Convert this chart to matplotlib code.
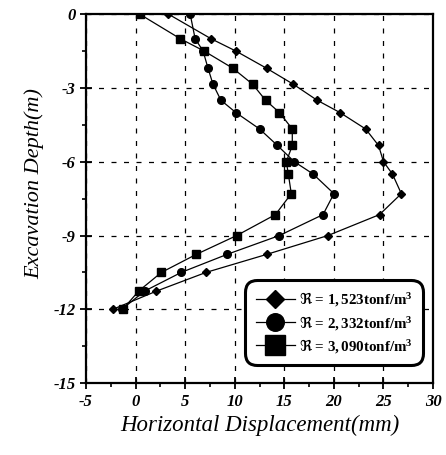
import matplotlib
matplotlib.use("Agg")
import matplotlib.pyplot as plt
from matplotlib.ticker import MultipleLocator

plt.rcParams["font.family"] = ["Liberation Serif", "DejaVu Serif"]
plt.rcParams["mathtext.fontset"] = "custom"
plt.rcParams["mathtext.it"] = "Liberation Serif:italic:bold"
plt.rcParams["mathtext.rm"] = "Liberation Serif:bold"
plt.rcParams["mathtext.fallback"] = "stix"
plt.rcParams["axes.unicode_minus"] = False

# depth of each reading (m)
depth = [0, -1.0, -1.5, -2.2, -2.85, -3.5, -4.0, -4.67, -5.34,
         -6.0, -6.5, -7.3, -8.15, -9.0, -9.77, -10.5, -11.26, -12.0]

# horizontal displacement (mm) for each stiffness
disp_1523 = [3.3, 7.6, 10.1, 13.2, 15.9, 18.3, 20.6, 23.2, 24.5,
             25.0, 25.9, 26.8, 24.6, 19.4, 13.2, 7.1, 2.1, -2.3]
disp_2332 = [5.5, 6.0, 6.8, 7.3, 7.8, 8.6, 10.1, 12.5, 14.3,
             16.0, 17.9, 20.0, 18.9, 14.5, 9.2, 4.6, 0.9, -1.4]
disp_3090 = [0.4, 4.5, 6.9, 9.8, 11.8, 13.1, 14.5, 15.8, 15.8,
             15.2, 15.4, 15.7, 14.1, 10.2, 6.1, 2.6, 0.3, -1.3]

labels = [r"$\mathbf{\Re}$ = $\mathit{1,523}$tonf/m$^3$",
          r"$\mathbf{\Re}$ = $\mathit{2,332}$tonf/m$^3$",
          r"$\mathbf{\Re}$ = $\mathit{3,090}$tonf/m$^3$"]

fig = plt.figure(figsize=(4.46, 4.55), dpi=100)
ax = fig.add_axes([0.193, 0.158, 0.778, 0.811])

ax.plot(disp_1523, depth, color="black", lw=0.9, marker="D", ms=4, label=labels[0])
ax.plot(disp_2332, depth, color="black", lw=0.9, marker="o", ms=5.5, label=labels[1])
ax.plot(disp_3090, depth, color="black", lw=0.9, marker="s", ms=6, label=labels[2])

ax.set_xlim(-5, 30)
ax.set_ylim(-15, 0)
ax.xaxis.set_major_locator(MultipleLocator(5))
ax.xaxis.set_minor_locator(MultipleLocator(2.5))
ax.yaxis.set_major_locator(MultipleLocator(3))
ax.yaxis.set_minor_locator(MultipleLocator(1.5))

ax.grid(True, which="major", color="black", ls=(0, (4, 6)), lw=0.9)

for s in ax.spines.values():
    s.set_linewidth(1.6)

ax.tick_params(which="major", direction="inout", length=9, width=1.3,
               labelsize=12, pad=3)
ax.tick_params(which="minor", direction="out", length=3, width=1.2)
for lab in ax.get_xticklabels() + ax.get_yticklabels():
    lab.set_fontstyle("italic")
    lab.set_fontweight("bold")

ax.set_xlabel("Horizontal Displacement(mm)", fontsize=16.5, fontstyle="italic", labelpad=4)
ax.set_ylabel("Excavation Depth(m)", fontsize=16, fontstyle="italic")
ax.yaxis.set_label_coords(-0.12, 0.54)

leg = ax.legend(loc="lower right", bbox_to_anchor=(0.985, 0.036),
                markerscale=2.3, handlelength=2.6, handletextpad=0.3,
                labelspacing=0.35, borderpad=0.5, fancybox=True,
                framealpha=1, edgecolor="black",
                prop={"weight": "bold", "size": 10.8})
leg.get_frame().set_linewidth(2.2)
leg.get_frame().set_boxstyle("round", pad=0.2, rounding_size=0.8)

fig.savefig("out.png", dpi=100)
